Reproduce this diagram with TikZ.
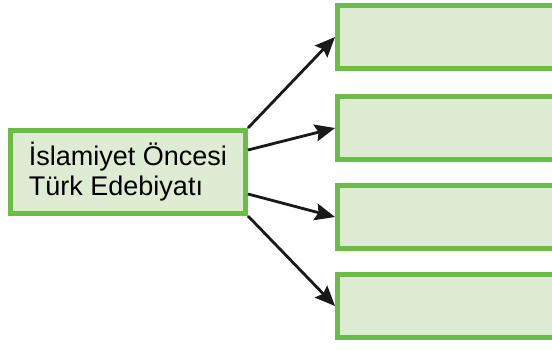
\documentclass[tikz,border=0pt]{standalone}
\usepackage{fontspec}
\setmainfont{Liberation Sans}
\usepackage{tikz}
\usepackage{xcolor}
\usetikzlibrary{shapes.geometric, arrows.meta}
\definecolor{kutuyesil}{RGB}{106,189,69}
\definecolor{kutuzemin}{RGB}{222,236,212}
\tikzstyle{kutu} = [rectangle, minimum width=220pt, minimum height=63pt, line width=5pt, draw=kutuyesil, fill=kutuzemin]
\tikzstyle{ok} = [line width=2.8pt,-{Stealth[length=20pt,width=17pt,inset=3pt]},black!90]

\begin{document}
\begin{tikzpicture}[x=1pt,y=-1pt]
                    \useasboundingbox (0,0) rectangle (552,349);

                    \node[kutu, minimum width=235pt, minimum height=83pt, align=left, font=\fontsize{27}{30}\selectfont] (islam) at (128,172) {İslamiyet Öncesi\\Türk Edebiyatı};

                    \node[kutu] (k1) at (447.5,37) {};
                    \node[kutu] (k2) at (447.5,128) {};
                    \node[kutu] (k3) at (447.5,217) {};
                    \node[kutu] (k4) at (447.5,306) {};

                    \draw[ok] (islam.north east) -- (k1.west);
                    \draw[ok] ([yshift=22pt]islam.east) -- (k2.west);
                    \draw[ok] ([yshift=-22pt]islam.east) -- (k3.west);
                    \draw[ok] (islam.south east) -- (k4.west);
                \end{tikzpicture}
\end{document}
